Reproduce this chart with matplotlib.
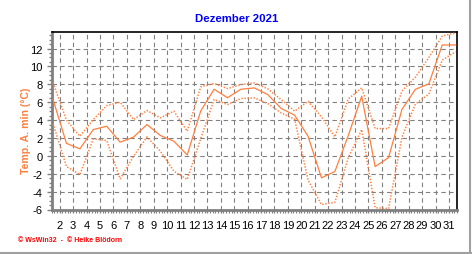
import matplotlib
matplotlib.use("Agg")
import matplotlib.pyplot as plt
from matplotlib.ticker import MultipleLocator, FixedLocator
import numpy as np

plt.rcParams['font.family'] = ['Liberation Sans', 'DejaVu Sans']

days = list(range(1, 32))
temp_mean = [6.3, 1.4, 0.78, 2.94, 3.31, 1.53, 2.1, 3.5, 2.27, 1.64, 0.1,
             5.0, 7.45, 6.5, 7.45, 7.6, 6.85, 5.3, 4.55, 2.2, -2.46, -1.75,
             2.27, 6.67, -1.2, -0.2, 5.2, 7.44, 8.05, 12.4, 12.4]
temp_upper = [8.16, 4.0, 2.2, 4.06, 5.62, 6.0, 4.06, 5.07, 4.25, 5.0, 2.76,
              7.71, 8.1, 7.52, 7.97, 8.16, 7.49, 6.29, 5.0, 6.1, 4.36, 2.12,
              6.37, 7.6, 3.05, 3.05, 7.25, 8.8, 11.0, 13.4, 13.75]
temp_lower = [3.6, -1.2, -2.09, 1.9, 1.71, -2.57, -0.04, 2.12, 0.52, -1.71,
              -2.64, 1.9, 6.3, 5.74, 6.41, 6.48, 5.85, 4.8, 4.1, -2.7, -5.44,
              -5.2, -0.2, 2.94, -5.8, -5.9, 2.1, 5.8, 6.9, 10.7, 11.65]
xtick_days = list(range(2, 32))
ytick_vals = list(range(-6, 13, 2))

title = "Dezember 2021"
ylabel = "Temp. A. min (°C)"
footer = "© WsWin32  -  © Heike Blödorn"

line_col = '#ff7f3f'
grid_col = '#808080'

fig = plt.figure(figsize=(4.72, 2.55), dpi=100)
ax = fig.add_axes([51.7/472, 1-210.5/255, (457-51.7)/472, (210.5-33)/255])

x = np.array(days) + 0.5
ax.plot(x, temp_upper, color=line_col, lw=1.1, ls=(0, (0.9, 1.1)), zorder=3)
ax.plot(x, temp_lower, color=line_col, lw=1.1, ls=(0, (0.9, 1.1)), zorder=3)
ax.plot(x, temp_mean, color=line_col, lw=0.9, zorder=4)

ax.set_xlim(1.4, 31.6)
ax.set_ylim(-6, 13.85)

ax.xaxis.set_major_locator(FixedLocator(xtick_days))
ax.set_xticklabels([str(d) for d in xtick_days])
ax.xaxis.set_minor_locator(MultipleLocator(0.2))
ax.yaxis.set_major_locator(FixedLocator(ytick_vals))
ax.set_yticklabels([str(v) for v in ytick_vals])
ax.yaxis.set_minor_locator(MultipleLocator(0.5))

ax.grid(True, which='major', color=grid_col, lw=0.8, ls=(0, (4, 3)), zorder=1)

for s in ['top', 'right']:
    ax.spines[s].set_color('black')
    ax.spines[s].set_linewidth(1.2)
for s in ['left', 'bottom']:
    ax.spines[s].set_color(grid_col)
    ax.spines[s].set_linewidth(2.0)

ax.tick_params(axis='y', which='major', length=3.5, width=1, color=grid_col,
               labelsize=8, pad=3, labelcolor='black')
ax.tick_params(axis='y', which='minor', length=2, width=1, color=grid_col)
ax.tick_params(axis='x', which='major', length=2.5, width=1, color=grid_col,
               labelsize=8, pad=5, labelcolor='black')
ax.tick_params(axis='x', which='minor', length=2.5, width=0.8, color=grid_col)

fig.text(236.5/472, 1-18.5/255, title, ha='center', va='center',
         color='#0000ff', fontsize=8.2, fontweight='bold')
fig.text(26/472, 1-131/255, ylabel, ha='center', va='center', rotation=90,
         color=line_col, fontsize=7.6, fontweight='bold')
fig.text(18/472, 1-240.5/255, footer, ha='left', va='center',
         color='#ff0000', fontsize=5, fontweight='bold')

# light gray border on right and bottom edges
fig.add_artist(plt.Line2D([0, 1], [1.5/255, 1.5/255], transform=fig.transFigure,
                          color='#a0a0a0', lw=1.5))
fig.add_artist(plt.Line2D([1-2/472, 1-2/472], [0, 1], transform=fig.transFigure,
                          color='#a0a0a0', lw=1.5))

fig.savefig('out.png', dpi=100)
